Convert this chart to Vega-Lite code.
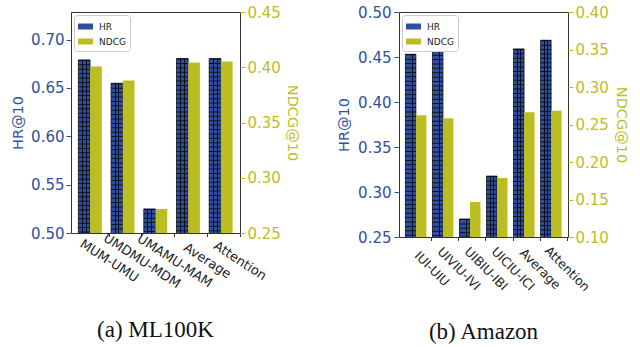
{
  "$schema": "https://vega.github.io/schema/vega-lite/v6.json",
  "padding": {"left": 10, "top": 4, "right": 0, "bottom": 0},
  "spacing": 36,
  "config": {
    "view": {"stroke": "#333", "strokeWidth": 1},
    "font": "DejaVu Sans",
    "axis": {"labelFont": "DejaVu Sans", "titleFont": "DejaVu Sans", "titleFontWeight": "normal", "grid": false}
  },
  "datasets": {
    "ml": [
      {"method": "MUM-UMU", "metric": "HR", "value": 0.679},
      {"method": "MUM-UMU", "metric": "NDCG", "value": 0.4007},
      {"method": "UMDMU-MDM", "metric": "HR", "value": 0.6548},
      {"method": "UMDMU-MDM", "metric": "NDCG", "value": 0.388},
      {"method": "UMAMU-MAM", "metric": "HR", "value": 0.5249},
      {"method": "UMAMU-MAM", "metric": "NDCG", "value": 0.2717},
      {"method": "Average", "metric": "HR", "value": 0.6803},
      {"method": "Average", "metric": "NDCG", "value": 0.4043},
      {"method": "Attention", "metric": "HR", "value": 0.6803},
      {"method": "Attention", "metric": "NDCG", "value": 0.4052}
    ],
    "amazon": [
      {"method": "IUI-UIU", "metric": "HR", "value": 0.453},
      {"method": "IUI-UIU", "metric": "NDCG", "value": 0.2624},
      {"method": "UIVIU-IVI", "metric": "HR", "value": 0.4575},
      {"method": "UIVIU-IVI", "metric": "NDCG", "value": 0.2585},
      {"method": "UIBIU-IBI", "metric": "HR", "value": 0.27},
      {"method": "UIBIU-IBI", "metric": "NDCG", "value": 0.1466},
      {"method": "UICIU-ICI", "metric": "HR", "value": 0.3177},
      {"method": "UICIU-ICI", "metric": "NDCG", "value": 0.1786},
      {"method": "Average", "metric": "HR", "value": 0.459},
      {"method": "Average", "metric": "NDCG", "value": 0.2664},
      {"method": "Attention", "metric": "HR", "value": 0.4686},
      {"method": "Attention", "metric": "NDCG", "value": 0.2682}
    ]
  },
  "hconcat": [
    {
      "width": 169,
      "height": 221,
      "data": {"name": "ml"},
      "title": {"text": "(a) ML100K", "orient": "bottom", "anchor": "middle", "frame": "group", "font": "Liberation Serif", "fontSize": 23, "fontWeight": "normal", "color": "#111", "offset": 28},
      "encoding": {
        "x": {"field": "method", "type": "nominal", "sort": ["MUM-UMU", "UMDMU-MDM", "UMAMU-MAM", "Average", "Attention"],
          "scale": {"paddingInner": 0.284, "paddingOuter": 0.226},
          "axis": {"title": null, "labelAngle": 33, "labelAlign": "center", "labelBaseline": "middle", "labelPadding": 24, "labelFontSize": 13, "labelColor": "#222", "tickOffset": 18.6, "domain": false, "tickSize": 3.5, "tickColor": "#333"}},
        "xOffset": {"field": "metric", "type": "nominal", "scale": {"domain": ["HR", "NDCG"]}}
      },
      "layer": [
        {
          "transform": [{"filter": "datum.metric === 'HR'"}],
          "layer": [
            {
              "mark": {"type": "bar", "stroke": "#111", "strokeWidth": 0.8, "clip": true},
              "encoding": {
                "y": {"field": "value", "type": "quantitative", "scale": {"domain": [0.5, 0.7285], "zero": false, "nice": false},
                  "axis": {"title": "HR@10", "orient": "left", "values": [0.5, 0.55, 0.6, 0.65, 0.7], "format": ".2f", "domain": false, "labelColor": "#3050a0", "titleColor": "#3050a0", "tickColor": "#3050a0", "labelFontSize": 15, "titleFontSize": 14.5, "tickSize": 5, "labelPadding": 2, "titlePadding": 5}},
                "color": {"field": "metric", "type": "nominal", "scale": {"domain": ["HR", "NDCG"], "range": ["#2f4fa2", "#bcbd22"]},
                  "legend": {"title": null, "orient": "top-left", "offset": 3, "symbolType": "M-1,-0.4H1V0.4H-1Z", "symbolSize": 225, "symbolStrokeWidth": 0, "labelFontSize": 9, "labelColor": "#222", "fillColor": "white", "strokeColor": "#cccccc", "cornerRadius": 3, "padding": 4, "rowPadding": 2, "labelOffset": 6}}
              }
            },
            {
              "mark": {"type": "bar", "strokeWidth": 0, "clip": true, "fill": {"gradient": "linear", "x1": 0, "y1": 0, "x2": 1, "y2": 0, "stops": [
                {"offset": 0, "color": "rgba(0,0,0,0)"}, {"offset": 0.3, "color": "rgba(0,0,0,0)"}, {"offset": 0.3, "color": "rgba(0,0,0,0.8)"}, {"offset": 0.38, "color": "rgba(0,0,0,0.8)"}, {"offset": 0.38, "color": "rgba(0,0,0,0)"},
                {"offset": 0.63, "color": "rgba(0,0,0,0)"}, {"offset": 0.63, "color": "rgba(0,0,0,0.8)"}, {"offset": 0.71, "color": "rgba(0,0,0,0.8)"}, {"offset": 0.71, "color": "rgba(0,0,0,0)"}, {"offset": 1, "color": "rgba(0,0,0,0)"}]}},
              "encoding": {"y": {"field": "value", "type": "quantitative", "scale": {"domain": [0.5, 0.7285], "zero": false, "nice": false}, "axis": {"title": "HR@10"}}}
            },
            {
              "mark": {"type": "rule", "strokeWidth": 11.5, "strokeDash": [1, 3.4], "color": "#000", "opacity": 0.8, "strokeCap": "butt", "clip": true},
              "encoding": {"y": {"field": "value", "type": "quantitative", "scale": {"domain": [0.5, 0.7285], "zero": false, "nice": false}, "axis": {"title": "HR@10"}}, "y2": {"datum": 0.5}}
            }
          ]
        },
        {
          "transform": [{"filter": "datum.metric === 'NDCG'"}],
          "mark": {"type": "bar", "clip": true},
          "encoding": {
            "y": {"field": "value", "type": "quantitative", "scale": {"domain": [0.25, 0.45], "zero": false, "nice": false},
              "axis": {"title": "NDCG@10", "orient": "right", "values": [0.25, 0.3, 0.35, 0.4, 0.45], "format": ".2f", "domain": false, "labelColor": "#bcbd22", "titleColor": "#bcbd22", "tickColor": "#bcbd22", "labelFontSize": 15, "titleFontSize": 14.5, "tickSize": 5, "labelPadding": 2, "titlePadding": 4}},
            "color": {"field": "metric", "type": "nominal", "scale": {"domain": ["HR", "NDCG"], "range": ["#2f4fa2", "#bcbd22"]}}
          }
        }
      ],
      "resolve": {"scale": {"y": "independent"}}
    },
    {
      "width": 169,
      "height": 225,
      "data": {"name": "amazon"},
      "title": {"text": "(b) Amazon", "orient": "bottom", "anchor": "middle", "frame": "group", "font": "Liberation Serif", "fontSize": 23, "fontWeight": "normal", "color": "#111", "offset": 28},
      "encoding": {
        "x": {"field": "method", "type": "nominal", "sort": ["IUI-UIU", "UIVIU-IVI", "UIBIU-IBI", "UICIU-ICI", "Average", "Attention"],
          "scale": {"paddingInner": 0.225, "paddingOuter": 0.237},
          "axis": {"title": null, "labelAngle": 45, "labelAlign": "center", "labelBaseline": "middle", "labelPadding": 28, "labelFontSize": 12.5, "labelColor": "#222", "tickOffset": 15.5, "domain": false, "tickSize": 3.5, "tickColor": "#333"}},
        "xOffset": {"field": "metric", "type": "nominal", "scale": {"domain": ["HR", "NDCG"]}}
      },
      "layer": [
        {
          "transform": [{"filter": "datum.metric === 'HR'"}],
          "layer": [
            {
              "mark": {"type": "bar", "stroke": "#111", "strokeWidth": 0.8, "clip": true},
              "encoding": {
                "y": {"field": "value", "type": "quantitative", "scale": {"domain": [0.25, 0.5], "zero": false, "nice": false},
                  "axis": {"title": "HR@10", "orient": "left", "values": [0.25, 0.3, 0.35, 0.4, 0.45, 0.5], "format": ".2f", "domain": false, "labelColor": "#3050a0", "titleColor": "#3050a0", "tickColor": "#3050a0", "labelFontSize": 15, "titleFontSize": 14.5, "tickSize": 5, "labelPadding": 3, "titlePadding": 6}},
                "color": {"field": "metric", "type": "nominal", "scale": {"domain": ["HR", "NDCG"], "range": ["#2f4fa2", "#bcbd22"]},
                  "legend": {"title": null, "orient": "top-left", "offset": 3, "symbolType": "M-1,-0.4H1V0.4H-1Z", "symbolSize": 225, "symbolStrokeWidth": 0, "labelFontSize": 9, "labelColor": "#222", "fillColor": "white", "strokeColor": "#cccccc", "cornerRadius": 3, "padding": 4, "rowPadding": 2, "labelOffset": 6}}
              }
            },
            {
              "mark": {"type": "bar", "strokeWidth": 0, "clip": true, "fill": {"gradient": "linear", "x1": 0, "y1": 0, "x2": 1, "y2": 0, "stops": [
                {"offset": 0, "color": "rgba(0,0,0,0)"}, {"offset": 0.3, "color": "rgba(0,0,0,0)"}, {"offset": 0.3, "color": "rgba(0,0,0,0.8)"}, {"offset": 0.38, "color": "rgba(0,0,0,0.8)"}, {"offset": 0.38, "color": "rgba(0,0,0,0)"},
                {"offset": 0.63, "color": "rgba(0,0,0,0)"}, {"offset": 0.63, "color": "rgba(0,0,0,0.8)"}, {"offset": 0.71, "color": "rgba(0,0,0,0.8)"}, {"offset": 0.71, "color": "rgba(0,0,0,0)"}, {"offset": 1, "color": "rgba(0,0,0,0)"}]}},
              "encoding": {"y": {"field": "value", "type": "quantitative", "scale": {"domain": [0.25, 0.5], "zero": false, "nice": false}, "axis": {"title": "HR@10"}}}
            },
            {
              "mark": {"type": "rule", "strokeWidth": 10.5, "strokeDash": [1, 3.4], "color": "#000", "opacity": 0.8, "strokeCap": "butt", "clip": true},
              "encoding": {"y": {"field": "value", "type": "quantitative", "scale": {"domain": [0.25, 0.5], "zero": false, "nice": false}, "axis": {"title": "HR@10"}}, "y2": {"datum": 0.25}}
            }
          ]
        },
        {
          "transform": [{"filter": "datum.metric === 'NDCG'"}],
          "mark": {"type": "bar", "clip": true},
          "encoding": {
            "y": {"field": "value", "type": "quantitative", "scale": {"domain": [0.1, 0.4], "zero": false, "nice": false},
              "axis": {"title": "NDCG@10", "orient": "right", "values": [0.1, 0.15, 0.2, 0.25, 0.3, 0.35, 0.4], "format": ".2f", "domain": false, "labelColor": "#bcbd22", "titleColor": "#bcbd22", "tickColor": "#bcbd22", "labelFontSize": 15, "titleFontSize": 14.5, "tickSize": 5, "labelPadding": 2, "titlePadding": 5}},
            "color": {"field": "metric", "type": "nominal", "scale": {"domain": ["HR", "NDCG"], "range": ["#2f4fa2", "#bcbd22"]}}
          }
        }
      ],
      "resolve": {"scale": {"y": "independent"}}
    }
  ],
  "resolve": {"scale": {"x": "independent", "y": "independent", "xOffset": "independent", "color": "independent"}, "legend": {"color": "independent"}}
}
